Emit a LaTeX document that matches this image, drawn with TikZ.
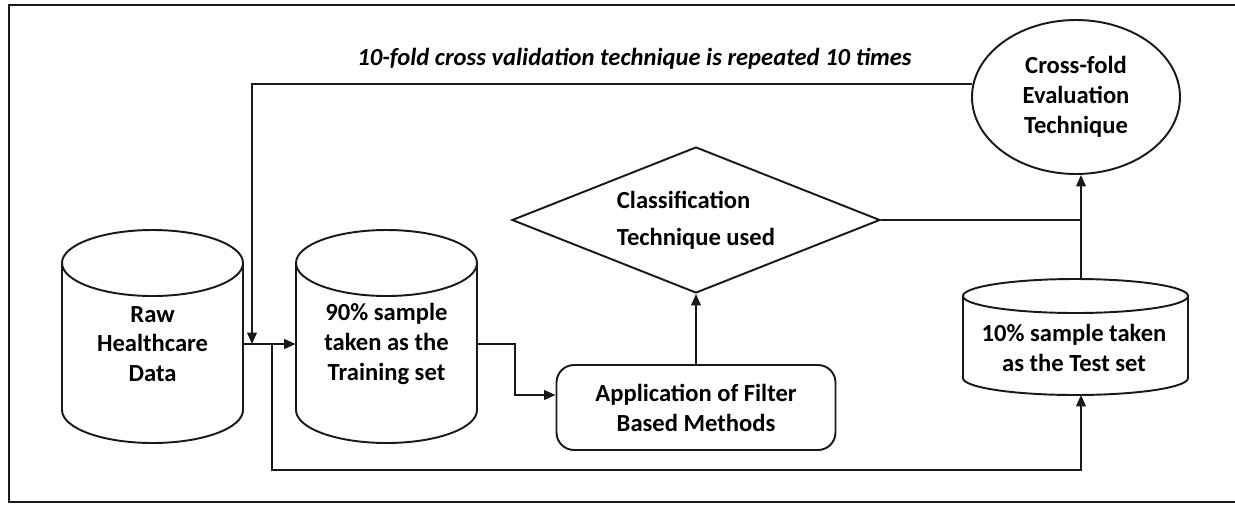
\documentclass[tikz,border=0pt]{standalone}
\usepackage{fontspec}
\setmainfont{Carlito}
\usetikzlibrary{arrows.meta,shapes.geometric,calc}
\newcommand\cylshape[5]{%
  \draw[ln] (#1,-#2) ellipse [x radius=#4, y radius=#5];
  \draw[ln] ({#1-#4},-#2) -- ({#1-#4},-#3) arc[start angle=180,end angle=360,x radius=#4,y radius=#5] -- ({#1+#4},-#2);
}
\tikzset{
  ln/.style={line width=1.1pt, draw=black!90},
  arr/.style={ln, -{Triangle[length=6.5pt,width=5.5pt]}},
  txt/.style={font=\bfseries\fontsize{14}{17}\selectfont, align=center, inner sep=0pt},
  ttl/.style={font=\bfseries\itshape\fontsize{14}{17}\selectfont, inner sep=0pt},
}
\begin{document}
\begin{tikzpicture}[x=0.02cm,y=0.02cm]
\useasboundingbox (0,0) rectangle (1235,-505);
% frame
\draw[ln] (1240,-5) -- (9,-5) -- (9,-502) -- (1240,-502);
% title
\node[ttl, anchor=base] (title) at (634.5,-65) {10-fold cross validation technique is repeated 10 times};
% cylinders
\cylshape{152.5}{263}{410}{90.5}{33}
\cylshape{386.5}{263}{410}{90.5}{33}
\cylshape{1075.5}{296}{378}{112.5}{17}
\node[txt, minimum width={181*0.02cm}] (raw) at (152.5,-344) {Raw\\Healthcare\\Data};
\node[txt, minimum width={181*0.02cm}] (train) at (386.5,-344) {90\% sample\\taken as the\\Training set};
\node[txt, minimum width={225*0.02cm}] (test) at (1074,-348) {10\% sample taken\\as the Test set};
\coordinate (testtop) at (1081,-279);
\coordinate (testbot) at (1081,-395);
% filter box
\node[txt, draw=black!90, line width=1.1pt, rounded corners=10pt, minimum width={279*0.02cm}, minimum height={85*0.02cm}] (filter) at (696,-407.5) {Application of Filter\\Based Methods};
% diamond
\node[draw=black!90, line width=1.1pt, diamond, aspect=2.52, inner sep=0pt, minimum width={368*0.02cm}, minimum height={146*0.02cm}, font=\bfseries\fontsize{14}{17}\selectfont, align=left] (cls) at (696,-220) {Classification\\[4pt]Technique used};
% ellipse
\node[draw=black!90, line width=1.1pt, ellipse, inner sep=0pt, minimum width={208*0.02cm}, minimum height={154*0.02cm}, font=\bfseries\fontsize{14}{17}\selectfont, align=center] (cf) at (1076,-97) {Cross-fold\\Evaluation\\Technique};
% connectors
\coordinate (fbend) at (252,-344);
\coordinate (split) at (272,-344);
\coordinate (botline) at (272,-470);
\coordinate (trbend) at (515,-395);
\draw[arr] (raw.east) -- (train.west);
\draw[arr] (cf.173) -| (fbend);
\draw[arr] (split) -- (botline) -| (testbot);
\draw[arr] (train.east) -| (trbend) -- (trbend -| filter.west);
\draw[arr] (filter.north) -- (cls.south);
\draw[ln] (cls.east) -- (cls.east -| testtop);
\draw[arr] (testtop) -- (testtop |- cf.south);
\end{tikzpicture}
\end{document}
